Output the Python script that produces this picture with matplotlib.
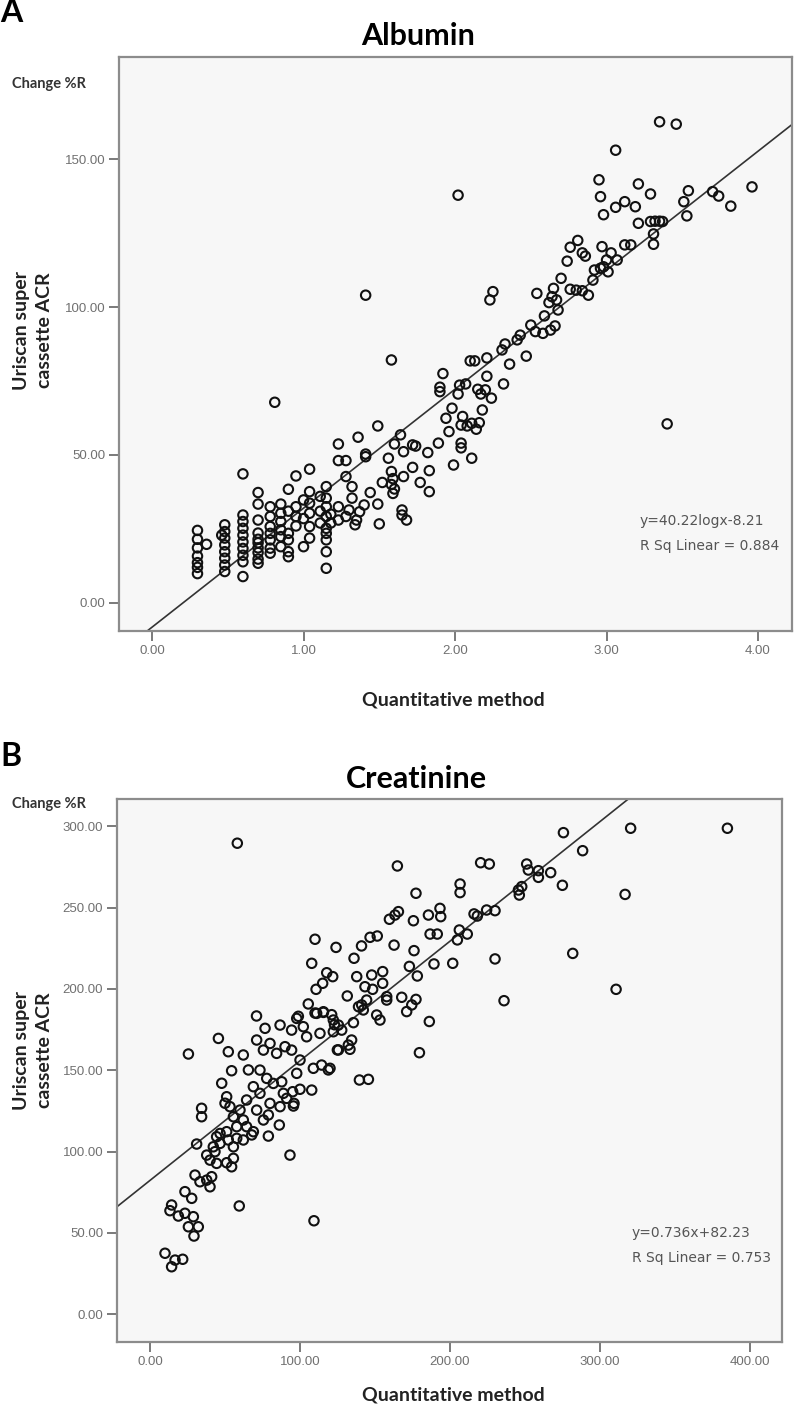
import matplotlib
matplotlib.use("Agg")
import matplotlib.pyplot as plt
import numpy as np

W, H = 796, 1408

# ---- Albumin panel (x = log quantitative, y = Uriscan change %R)
alb_x = [0.30, 0.30, 0.30, 0.30, 0.30, 0.30, 0.30, 0.36,
         0.48, 0.48, 0.48, 0.48, 0.48, 0.48, 0.48, 0.48, 0.46,
         0.60, 0.60, 0.60, 0.60, 0.60, 0.60, 0.60, 0.60, 0.60, 0.60,
         0.70, 0.70, 0.70, 0.70, 0.70, 0.70, 0.70, 0.70, 0.70, 0.70,
         0.78, 0.78, 0.78, 0.78, 0.78, 0.78, 0.78, 0.81,
         0.85, 0.85, 0.85, 0.85, 0.85, 0.85,
         0.90, 0.90, 0.90, 0.90, 0.90, 0.90,
         0.95, 0.95, 0.95, 0.95, 1.00, 1.00, 1.00,
         1.04, 1.04, 1.04, 1.04, 1.04, 1.04, 1.11, 1.11, 1.11,
         1.15, 1.15, 1.15, 1.15, 1.15, 1.15, 1.15, 1.15, 1.15, 1.18, 1.18,
         1.23, 1.23, 1.23, 1.23, 1.28, 1.28, 1.28,
         1.32, 1.32, 1.30, 1.34, 1.35, 1.37, 1.40,
         1.41, 1.41, 1.41, 1.36, 1.44, 1.49, 1.49, 1.50, 1.52, 1.56,
         1.58, 1.59, 1.58, 1.60, 1.59,
         1.58, 1.60, 1.64, 1.65, 1.65, 1.66, 1.66, 1.68,
         1.72, 1.72, 1.74, 1.77, 1.82, 1.83, 1.83, 1.89,
         1.90, 1.90, 1.92,
         1.94, 2.05, 2.04, 2.08, 2.14, 2.16, 2.11,
         1.96, 1.98, 2.02, 2.02, 2.04, 2.04, 1.99, 2.11,
         2.07, 2.03, 2.10, 2.13, 2.15, 2.17, 2.24, 2.20, 2.32, 2.18,
         2.21, 2.21, 2.23, 2.25,
         2.36, 2.47, 2.41, 2.43, 2.33, 2.31,
         2.50, 2.53, 2.58, 2.63, 2.66, 2.59,
         2.64, 2.67, 2.62, 2.68,
         2.54, 2.65, 2.76, 2.80, 2.84, 2.88,
         2.70, 2.91, 2.92, 2.96, 2.98, 3.01,
         3.00, 3.07, 3.12, 3.16, 2.97, 3.03,
         2.74, 2.84, 2.86, 2.76, 2.81,
         3.31, 3.31, 3.29, 3.32, 3.35, 3.37, 3.21,
         2.98, 3.06, 3.19, 3.12, 2.96, 2.95, 3.21, 3.29,
         3.06, 3.35, 3.46,
         3.54, 3.51, 3.53, 3.70, 3.74, 3.96, 3.82,
         3.40]
alb_y = [24.5, 21.5, 18.6, 15.8, 13.6, 12.0, 9.9, 19.8,
         26.4, 24.1, 21.9, 19.6, 17.3, 15.1, 12.8, 10.6, 22.9,
         43.6, 29.7, 27.5, 25.2, 22.9, 20.6, 18.4, 16.1, 13.9, 8.9,
         37.3, 33.4, 28.0, 23.6, 21.5, 20.3, 18.6, 17.0, 14.8, 13.4,
         32.5, 29.2, 25.8, 23.5, 21.3, 18.5, 16.8, 67.8,
         33.4, 30.3, 27.5, 24.7, 22.4, 19.0,
         38.4, 31.0, 23.5, 21.3, 17.3, 15.6,
         42.9, 32.5, 29.2, 26.0, 34.8, 28.5, 19.0,
         45.2, 37.6, 33.7, 30.3, 25.8, 21.9, 36.0, 31.0, 27.0,
         39.3, 35.4, 32.5, 29.2, 25.2, 23.5, 21.3, 17.3, 11.7, 30.0, 27.0,
         53.7, 48.1, 32.5, 28.0, 48.1, 42.7, 29.2,
         39.3, 35.4, 31.4, 26.4, 28.0, 30.8, 33.1,
         104.0, 50.3, 49.4, 56.0, 37.3, 59.8, 33.4, 26.7, 40.7, 48.9,
         44.4, 42.0, 40.0, 38.5, 37.0,
         82.1, 53.7, 56.8, 31.4, 29.7, 51.1, 42.7, 28.0,
         53.4, 45.8, 53.0, 40.7, 50.8, 44.7, 37.6, 54.0,
         72.9, 71.4, 77.5,
         62.4, 63.0, 60.1, 59.8, 58.7, 60.9, 60.7,
         57.9, 65.8, 70.6, 137.8, 54.0, 52.4, 46.6, 48.9,
         74.0, 73.6, 81.8, 81.8, 72.2, 70.6, 69.2, 72.0, 74.0, 65.2,
         82.8, 76.6, 102.4, 105.2,
         80.7, 83.4, 88.9, 90.5, 87.5, 85.5,
         93.9, 91.7, 91.1, 92.2, 93.6, 97.0,
         103.5, 102.4, 101.5, 99.0,
         104.6, 106.3, 106.0, 105.7, 105.5, 104.0,
         109.7, 109.1, 112.5, 113.1, 113.6, 111.9,
         115.9, 115.9, 121.0, 121.0, 120.4, 118.3,
         115.5, 118.3, 117.2, 120.2, 122.5,
         124.7, 121.2, 128.9, 129.0, 129.0, 128.9, 128.3,
         131.2, 133.7, 133.9, 135.6, 137.3, 143.0, 141.6, 138.2,
         153.0, 162.6, 161.8,
         139.3, 135.6, 130.8, 139.0, 137.5, 140.6, 134.1,
         60.5]
alb_fit = (40.22, -8.21)
alb_xticks = [0, 1, 2, 3, 4]
alb_yticks = [0, 50, 100, 150]

# ---- Creatinine panel
cre_x = [58.2, 275.6, 320.4, 384.9, 288.4, 164.9, 220.4, 226.2, 251.1, 258.9,
         267.1, 258.9, 252.2, 274.9, 245.6, 247.8, 246.2, 316.7, 206.7, 206.7,
         177.3, 224.4, 230.0, 216.0, 218.2, 193.3, 193.8, 185.6, 175.6, 186.7,
         191.5, 206.2, 204.9, 211.5, 176.0, 230.0, 281.8, 172.9, 178.2, 189.3,
         201.8, 167.8, 177.3, 174.5, 171.1, 236.0, 186.2, 310.7, 179.6,
         110.0, 124.0, 107.8, 146.7, 151.5, 141.0, 159.6, 163.3, 165.6, 162.7,
         136.0, 117.8, 121.8, 115.1, 110.7, 137.8, 147.8, 155.1,
         143.3, 148.4, 155.1, 157.8, 144.4, 141.1, 131.5, 105.5, 71.0, 98.9,
         110.0, 115.6, 121.1,
         45.6, 25.6, 52.2, 62.2, 54.4, 65.6, 47.8, 51.1, 50.0, 53.3,
         34.4, 34.4, 31.1,
         37.8, 43.3, 42.2, 40.0, 44.4, 51.1, 55.6, 54.4, 46.7,
         30.0, 33.3, 37.8, 41.1, 40.0, 23.3, 27.8,
         14.4, 13.3, 18.9, 23.3, 28.9, 25.6, 32.2, 29.3,
         10.0, 14.4, 16.7, 21.8,
         59.5, 109.3, 93.3, 78.9, 86.2, 67.8, 57.8, 78.9, 95.6, 96.0,
         107.8, 100.0, 95.1, 108.9, 114.4, 118.9, 134.4, 133.3, 139.6, 145.6,
         125.6, 132.2, 139.0, 142.2, 151.1, 153.3, 157.8,
         71.1, 75.6, 80.0, 84.4, 90.0, 94.4, 100.0, 97.8, 73.3, 77.8,
         82.2, 87.8, 88.9, 68.9, 73.3, 64.4, 60.0, 55.6, 62.2, 57.8,
         51.1, 46.7, 64.4, 71.1, 80.0, 86.7, 91.1, 75.6, 68.9, 62.2,
         52.2, 44.4, 55.6,
         86.7, 76.7, 94.4, 102.2, 97.8, 111.1, 115.6, 122.2, 125.6, 122.2,
         127.8, 135.6,
         104.4, 113.3, 124.9, 120.0, 123.0]
cre_y = [289.7, 296.2, 298.9, 298.9, 285.1, 275.7, 277.7, 276.9, 276.9, 272.8,
         271.6, 268.7, 273.2, 263.8, 260.9, 263.0, 257.8, 258.2, 264.6, 259.3,
         258.9, 248.6, 248.2, 246.2, 244.9, 249.6, 244.5, 245.5, 242.0, 233.8,
         233.8, 236.3, 230.2, 233.8, 223.6, 218.5, 221.9, 213.9, 208.0, 215.4,
         215.8, 194.9, 193.6, 190.2, 186.1, 192.8, 180.0, 199.8, 160.8,
         230.6, 225.6, 215.8, 231.8, 232.6, 226.5, 242.9, 245.5, 247.6, 227.0,
         218.9, 210.0, 207.6, 203.5, 199.8, 207.6, 208.6, 210.7,
         201.4, 199.8, 203.5, 195.3, 193.2, 190.2, 195.7, 190.8, 183.4, 183.2,
         185.2, 185.6, 184.2,
         169.6, 160.0, 161.4, 159.4, 149.7, 150.2, 142.0, 133.7, 129.7, 127.6,
         126.6, 121.4, 104.6,
         97.8, 99.9, 102.9, 94.7, 92.7, 93.1, 95.8, 90.6, 105.0,
         85.5, 81.4, 82.4, 84.5, 78.3, 75.3, 71.2,
         67.1, 63.6, 60.3, 62.0, 59.9, 53.7, 53.7, 48.0,
         37.4, 29.1, 33.2, 33.7,
         66.5, 57.4, 97.8, 109.5, 116.3, 110.2, 108.1, 122.5, 128.0, 129.6,
         137.8, 138.3, 136.8, 151.2, 153.2, 150.2, 168.6, 162.9, 144.0, 144.4,
         162.5, 165.5, 189.1, 187.1, 184.0, 180.9, 193.2,
         168.6, 162.4, 166.5, 160.4, 164.5, 162.4, 156.3, 148.1, 150.1, 145.0,
         141.9, 142.9, 135.8, 139.9, 135.8, 131.7, 125.5, 121.4, 119.4, 115.3,
         112.2, 111.1, 115.3, 125.5, 129.6, 127.6, 132.7, 119.4, 112.2, 107.1,
         107.1, 109.1, 102.9,
         177.8, 175.8, 174.7, 176.8, 181.9, 185.0, 186.0, 180.9, 177.8, 173.7,
         174.7, 179.3,
         170.6, 172.7, 162.5, 151.2, 178.0]
cre_fit = (0.736, 82.23)
cre_xticks = [0, 100, 200, 300, 400]
cre_yticks = [0, 50, 100, 150, 200, 250, 300]

TICK_FONT = 'Liberation Sans'
MAIN_FONT = 'Lato'


def fx(px):
    return px / W


def fy(py):
    return 1 - py / H


def panel(fig, box, xs, ys, fit, xlim, ylim, xticks, yticks, eq_text, r2_text, text_pos):
    left, top, right, bottom = box
    ax = fig.add_axes([fx(left), fy(bottom), (right - left) / W, (bottom - top) / H])
    ax.set_facecolor('#f7f7f7')
    for s in ax.spines.values():
        s.set_color('#8c8c8c')
        s.set_linewidth(1.6)
    ax.scatter(xs, ys, s=46, facecolors='none', edgecolors='#111111', linewidths=1.5, zorder=3)
    # fit line across the whole x range, the axes clip it
    lx = np.array(xlim)
    ax.plot(lx, fit[0] * lx + fit[1], color='#333333', lw=1.2, zorder=2)
    ax.set_xlim(xlim)
    ax.set_ylim(ylim)
    ax.set_xticks(xticks)
    ax.set_yticks(yticks)
    ax.set_xticklabels(['%.2f' % v for v in xticks])
    ax.set_yticklabels(['%.2f' % v for v in yticks])
    ax.tick_params(direction='out', length=7, width=1.4, color='#7a7a7a',
                   labelsize=9.5, labelcolor='#707070', pad=3)
    for lab in ax.get_xticklabels() + ax.get_yticklabels():
        lab.set_fontfamily(TICK_FONT)
    tx, ty = text_pos
    fig.text(fx(tx), fy(ty), eq_text, fontsize=10, color='#555555', va='center', ha='left')
    fig.text(fx(tx), fy(ty + 25), r2_text, fontsize=10, color='#555555', va='center', ha='left')
    return ax


def labels(fig, letter, letter_y, title, title_x, title_y, top_y, mid_y, xlab_y):
    fig.text(fx(0), fy(letter_y), letter, fontsize=23, fontweight='bold', family=MAIN_FONT,
             va='top', ha='left')
    fig.text(fx(title_x), fy(title_y), title, fontsize=22, fontweight='bold', family=MAIN_FONT,
             va='center', ha='center')
    fig.text(fx(12), fy(top_y), 'Change %R', fontsize=10.5, fontweight='bold', family=MAIN_FONT,
             color='#333333', va='center', ha='left')
    fig.text(fx(33), fy(mid_y), 'Uriscan super\ncassette ACR', fontsize=14, fontweight='bold',
             family=MAIN_FONT, rotation=90, va='center', ha='center', multialignment='center',
             linespacing=1.45, color='#222222')
    fig.text(fx(453), fy(xlab_y), 'Quantitative method', fontsize=14, fontweight='bold',
             family=MAIN_FONT, va='center', ha='center', color='#222222')


fig = plt.figure(figsize=(W / 100, H / 100), dpi=100)

# panel A
panel(fig, (119, 57, 792, 631), alb_x, alb_y, alb_fit, (-0.218, 4.224), (-9.5, 184.5),
      alb_xticks, alb_yticks, 'y=40.22logx-8.21', 'R Sq Linear = 0.884', (640, 521))
labels(fig, 'A', -2, 'Albumin', 418, 36, 84, 330, 700)

# panel B
panel(fig, (117, 799, 782, 1342), cre_x, cre_y, cre_fit, (-22, 421.3), (-17.2, 316.9),
      cre_xticks, cre_yticks, 'y=0.736x+82.23', 'R Sq Linear = 0.753', (632, 1233))
labels(fig, 'B', 742, 'Creatinine', 416, 779, 804, 1050, 1395)

fig.savefig('out.png', dpi=100)
